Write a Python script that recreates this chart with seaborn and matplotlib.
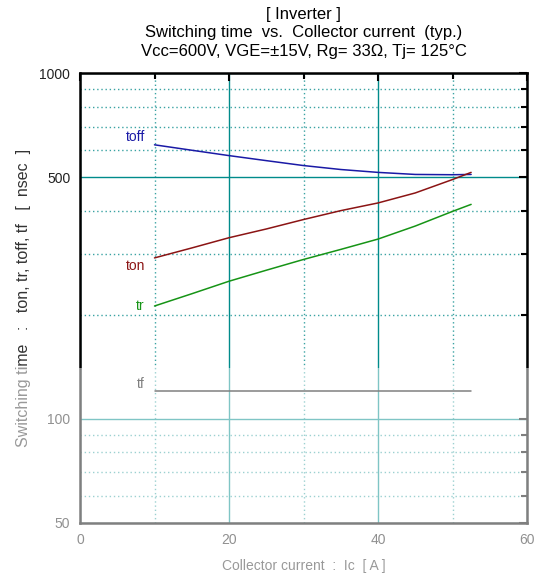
import numpy as np
import pandas as pd
import matplotlib
matplotlib.use("Agg")
import matplotlib.pyplot as plt
import seaborn as sns
from matplotlib.patches import Rectangle
from matplotlib.ticker import FixedLocator, NullFormatter

# ---- data ----
ic = [10, 15, 20, 25, 30, 35, 40, 45, 50, 52.5]
toff = [620, 598, 577, 558, 540, 526, 516, 509, 508, 509]
ton = [292, 312, 334, 354, 377, 400, 421, 450, 492, 516]
tr = [212, 230, 250, 269, 289, 309, 331, 361, 398, 417]
tf = [120, 120, 120, 120, 120, 120, 120, 120, 120, 120]

series_names = ["toff", "ton", "tr", "tf"]
series_colors = ["#1a1aa6", "#8b1414", "#169416", "#000000"]
label_pos = {"toff": (8.7, 655), "ton": (8.7, 276), "tr": (8.7, 212), "tf": (8.7, 126)}

x_major = [0, 20, 40, 60]
x_minor = [10, 30, 50]
y_major = [50, 100, 500, 1000]
y_minor = [60, 70, 80, 90, 200, 300, 400, 600, 700, 800, 900]

title = "[ Inverter ]\nSwitching time  vs.  Collector current  (typ.)\nVcc=600V, VGE=±15V, Rg= 33Ω, Tj= 125°C"
xlabel = "Collector current  :  Ic  [ A ]"
ylabel = "Switching time   :   ton, tr, toff, tf   [  nsec  ]"

df = pd.DataFrame({"Ic": ic * 4,
                   "t": toff + ton + tr + tf,
                   "kind": sum([[n] * len(ic) for n in series_names], [])})

sns.set_style("white")
plt.rcParams["font.family"] = ["Liberation Sans", "DejaVu Sans"]

fig = plt.figure(figsize=(5.42, 5.81), dpi=100)
ax = fig.add_axes([80 / 542, 1 - 523 / 581, 447 / 542, 450 / 581])

sns.lineplot(data=df, x="Ic", y="t", hue="kind", palette=dict(zip(series_names, series_colors)),
             ax=ax, legend=False, linewidth=1.1, zorder=5)

ax.set_yscale("log")
ax.set_xlim(0, 60)
ax.set_ylim(50, 1000)

ax.xaxis.set_major_locator(FixedLocator(x_major))
ax.xaxis.set_minor_locator(FixedLocator(x_minor))
ax.yaxis.set_major_locator(FixedLocator(y_major))
ax.yaxis.set_minor_locator(FixedLocator(y_minor))
ax.set_xticklabels([str(v) for v in x_major])
ax.set_yticklabels([str(v) for v in y_major])
ax.yaxis.set_minor_formatter(NullFormatter())

teal = "#008b8b"
ax.grid(True, which="major", color=teal, linewidth=1.0, linestyle="-", zorder=1)
ax.grid(True, which="minor", color="#3aa3a3", linewidth=1.0, linestyle=(0, (1, 2)), zorder=1)
ax.set_axisbelow(True)

for sp in ax.spines.values():
    sp.set_color("black")
    sp.set_linewidth(1.8)
    sp.set_zorder(6)

ax.tick_params(which="both", direction="in", top=True, right=True, color="black",
               width=1.5, labelsize=10, pad=7, labelcolor="#222222")
ax.tick_params(which="major", length=6)
ax.tick_params(which="minor", length=4)

ax.set_xlabel(xlabel, fontsize=10, color="#333333", labelpad=8.5)
ax.set_ylabel(ylabel, fontsize=11.5, color="#333333", labelpad=6)
ax.set_title(title, fontsize=12, color="black", linespacing=1.32, pad=12)

for name, col in zip(series_names, series_colors):
    x0, y0 = label_pos[name]
    ax.text(x0, y0, name, color=col, fontsize=10, ha="right", va="center")

# faded lower part of the original picture
fig.add_artist(Rectangle((0, 0), 1, 213 / 581, transform=fig.transFigure,
                         facecolor="white", edgecolor="none", alpha=0.5, zorder=10))

fig.savefig("out.png", dpi=100)
